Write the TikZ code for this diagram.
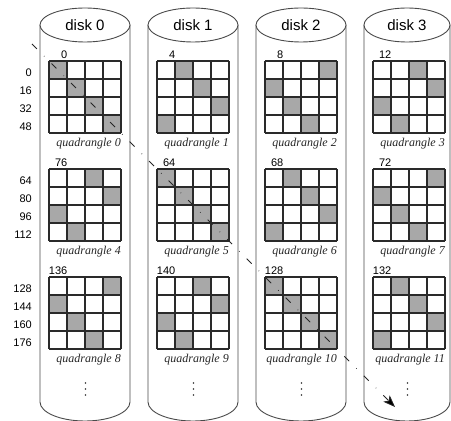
\documentclass[tikz,border=0pt]{standalone}
\usepackage{fontspec}
\setmainfont{Liberation Sans}
\newfontfamily\qfont{Liberation Serif}
\usetikzlibrary{arrows.meta}
\definecolor{cylcol}{HTML}{4A4A4A}
\definecolor{gridcol}{HTML}{2A2A2A}
\definecolor{shadecol}{HTML}{A8A8A8}
\tikzset{
  cyl/.style={draw=cylcol, line width=0.9pt},
  disklabel/.style={font=\fontsize{15}{15}\selectfont, inner sep=0pt},
  cellshade/.style={fill=shadecol},
  gridlines/.style={draw=gridcol, line width=1.1pt},
  numlabel/.style={font=\fontsize{11}{11}\selectfont, inner sep=0pt, anchor=base east},
  qlabel/.style={font=\qfont\itshape\fontsize{12}{12}\selectfont, text=black!85, inner sep=0pt, anchor=base east},
  vdot/.style={fill=black!80},
  trail/.style={draw=black!85, line width=0.8pt, dash pattern=on 7pt off 10pt on 0.6pt off 10pt,
    -{Stealth[length=12pt,width=9pt,inset=3pt,fill=black]}}
}
\begin{document}
\begin{tikzpicture}[x=1pt,y=1pt]
\useasboundingbox (0,0) rectangle (451,421);
% cylinders
\foreach \i/\xl/\xr in {0/40/130, 1/148/238, 2/256/346, 3/364/450} {
  \pgfmathsetmacro\xc{(\xl+\xr)/2}
  \pgfmathsetmacro\rx{(\xr-\xl)/2}
  \draw[cyl] (\xl,396) -- (\xl,19) arc[start angle=180, end angle=360, x radius=\rx, y radius=19] -- (\xr,396);
  \draw[cyl, fill=white] (\xc,396) ellipse[x radius=\rx, y radius=17];
  \node[disklabel] (d\i) at (\xc,396) {disk \i};
  \foreach \dy in {26,32,38} {
    \fill[vdot] (\xc+0.5,\dy) circle[radius=0.8pt];
  }
}
% quadrangles
\foreach \q/\s/\n in {0/0/0, 1/1/4, 2/3/8, 3/2/12, 4/2/76, 5/0/64, 6/1/68, 7/3/72, 8/3/136, 9/2/140, 10/0/128, 11/1/132} {
  \pgfmathtruncatemacro\c{mod(\q,4)}
  \pgfmathtruncatemacro\r{div(\q,4)}
  \pgfmathsetmacro\gx{49+108*\c}
  \pgfmathsetmacro\gy{360-108*\r}
  \begin{scope}[shift={(\gx,\gy)}]
    \foreach \k in {0,...,3} {
      \pgfmathtruncatemacro\sc{mod(\k+\s,4)}
      \fill[cellshade] (18*\sc,-18*\k) rectangle ++(18,-18);
    }
    \draw[gridlines] (0,-72) grid[step=18pt] (72,0);
    \node[numlabel] (n\q) at (18.5,2) {\n};
    \node[qlabel] (ql\q) at (72,-85.5) {quadrangle \q};
  \end{scope}
}
% row labels
\foreach \r in {0,1,2} {
  \foreach \k in {0,...,3} {
    \pgfmathtruncatemacro\val{64*\r+16*\k}
    \node[numlabel] (r\val) at (32,344-108*\r-18*\k) {\val};
  }
}
% dash-dot arrow
\coordinate (s) at (32,377);
\coordinate (e) at (395,14);
\draw[trail] (s) -- (e);
\end{tikzpicture}
\end{document}
